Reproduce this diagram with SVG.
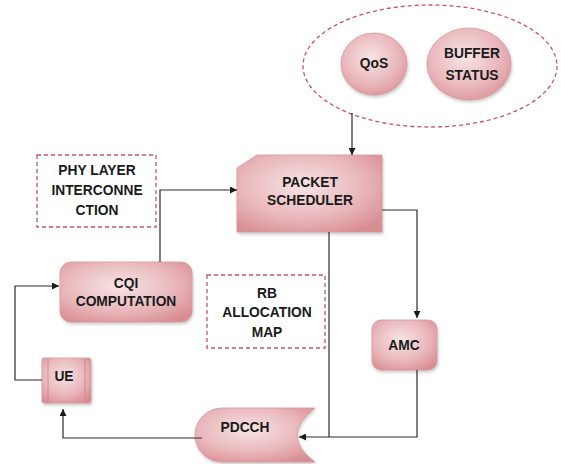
<svg xmlns="http://www.w3.org/2000/svg" width="561" height="464" viewBox="0 0 561 464">
<style>
.n{fill:url(#g);stroke:#d7999e;stroke-width:0.8;filter:url(#sh)}
.d{fill:none;stroke:#c6555f;stroke-width:1.3;stroke-dasharray:4,3}
.t{font-family:"Liberation Sans",Arial,sans-serif;font-weight:bold;font-size:13.8px;fill:#1a1a1a;text-anchor:middle}
.c{fill:none;stroke:#2a2a2a;stroke-width:1.2}
</style>
<defs>
<radialGradient id="g" cx="0.45" cy="0.4" r="0.7">
<stop offset="0" stop-color="#f7e4e5"/>
<stop offset="0.6" stop-color="#e9b7bb"/>
<stop offset="1" stop-color="#d88d93"/>
</radialGradient>
<filter id="sh" x="-20%" y="-20%" width="140%" height="150%">
<feDropShadow dx="1" dy="2" stdDeviation="1.5" flood-color="#999" flood-opacity="0.5"/>
</filter>
<marker id="a" viewBox="0 0 10 10" refX="10" refY="5" markerWidth="7" markerHeight="7" orient="auto" markerUnits="userSpaceOnUse">
<path d="M0,0 L10,5 L0,10 Z" fill="#1a1a1a"/>
</marker>
</defs>
<rect width="561" height="464" fill="#fff"/>

<g id="group-ellipse">
<ellipse class="d" cx="430" cy="66" rx="127" ry="61"/>
</g>
<g id="qos">
<ellipse class="n" cx="374" cy="64" rx="33" ry="31"/>
<text class="t" x="374" y="68">QoS</text>
</g>
<g id="buffer">
<ellipse class="n" cx="469" cy="64" rx="42" ry="36"/>
<text class="t" x="472" y="58">BUFFER</text>
<text class="t" x="472" y="80">STATUS</text>
</g>
<g id="packet-scheduler">
<path class="n" d="M237,168 L257,155 L382,155 L382,232 L237,232 Z"/>
<text class="t" x="310" y="187">PACKET</text>
<text class="t" x="310" y="205">SCHEDULER</text>
</g>
<g id="phy">
<rect class="d" x="37" y="155" width="119" height="72"/>
<text class="t" x="97" y="175">PHY LAYER</text>
<text class="t" x="97" y="195">INTERCONNE</text>
<text class="t" x="97" y="215">CTION</text>
</g>
<g id="cqi">
<rect class="n" x="60" y="262" width="132" height="60" rx="11"/>
<text class="t" x="126" y="288">CQI</text>
<text class="t" x="126" y="306">COMPUTATION</text>
</g>
<g id="rb">
<rect class="d" x="207" y="275" width="118" height="73"/>
<text class="t" x="267" y="298">RB</text>
<text class="t" x="267" y="317">ALLOCATION</text>
<text class="t" x="267" y="337">MAP</text>
</g>
<g id="amc">
<rect class="n" x="372" y="320" width="65" height="50" rx="9"/>
<text class="t" x="404" y="350">AMC</text>
</g>
<g id="ue">
<rect class="n" x="42" y="358" width="49" height="45" rx="2"/>
<line x1="48" y1="359" x2="48" y2="402" stroke="#c98088" stroke-width="0.8"/>
<line x1="85" y1="359" x2="85" y2="402" stroke="#c98088" stroke-width="0.8"/>
<text class="t" x="64" y="381">UE</text>
</g>
<g id="pdcch">
<path class="n" d="M222,408 L315,408 Q279,435 315,462 L222,462 A27,27 0 0 1 222,408 Z"/>
<text class="t" x="245" y="432">PDCCH</text>
</g>

<g id="connectors">
<path class="c" d="M352,113 L352,155" marker-end="url(#a)"/>
<path class="c" d="M160,262 L160,190 L237,190" marker-end="url(#a)"/>
<path class="c" d="M382,210 L417,210 L417,318" marker-end="url(#a)"/>
<path class="c" d="M329,232 L329,437"/>
<path class="c" d="M417,370 L417,437 L299,437" marker-end="url(#a)"/>
<path class="c" d="M202,438 L63,438 L63,409" marker-end="url(#a)"/>
<path class="c" d="M42,380 L15,380 L15,286 L59,286" marker-end="url(#a)"/>
</g>
</svg>
